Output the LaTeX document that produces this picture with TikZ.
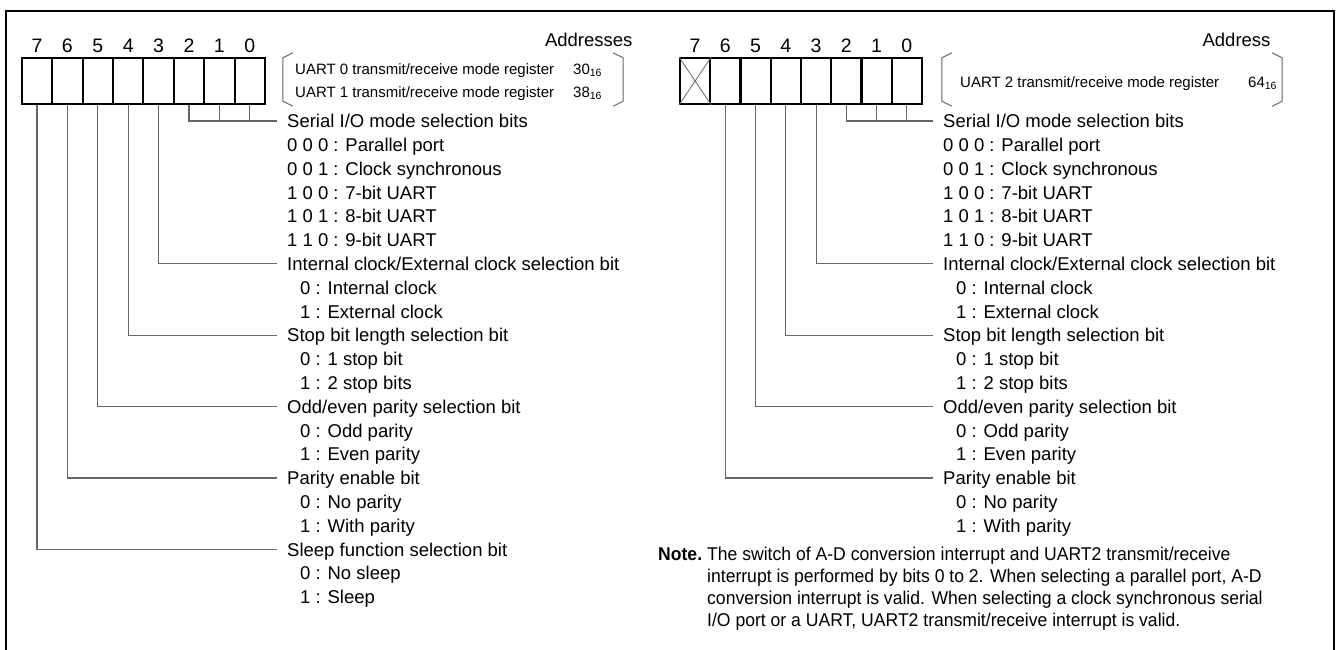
\documentclass[tikz,border=0pt]{standalone}
\usepackage{fontspec}
\setmainfont{Liberation Sans}
\newfontfamily\notefont[FakeStretch=0.95]{Liberation Sans}
\usetikzlibrary{positioning}
\colorlet{leadgray}{black!60}
\tikzset{
  cell/.style={draw, line width=2pt, minimum width=30.3pt, minimum height=46pt, inner sep=0pt},
  bitno/.style={anchor=base, yshift=5pt, inner sep=0pt, font=\fontsize{19.5}{22}\selectfont},
  txt/.style={anchor=west, inner sep=0pt, text height=13.3pt, text depth=0pt},
  lead/.style={draw=leadgray, line width=1.1pt},
  brk/.style={draw=leadgray, line width=1pt},
  adrbox/.style={minimum width=340pt, minimum height=53pt, inner sep=0pt},
  adrtxt/.style={anchor=base west, inner sep=0pt, font=\fontsize{15}{18}\selectfont},
  frame/.style={line width=2.5pt},
}

\begin{document}
\begin{tikzpicture}[x=1pt, y=-1pt, font=\fontsize{18.5}{23}\selectfont]
  \def\ytop{121}  % first text row
  \def\dy{23.8}   % row pitch
  \useasboundingbox (0,0) rectangle (1337,649);

  % frame
  \draw[frame] (6,652) -- (6,11) -- (1334,11) -- (1334,652);

  % registers
  \foreach \b in {0,...,7}{
    \node[cell] (L\b) at ({265-30.4*(\b+0.5)},81) {};
    \node[bitno] (nL\b) at (L\b.north) {\b};
    \node[cell] (R\b) at ({922-30.25*(\b+0.5)},81) {};
    \node[bitno] (nR\b) at (R\b.north) {\b};
  }
  \draw[leadgray, line width=0.8pt] (R7.north west) -- (R7.south east) (R7.south west) -- (R7.north east);

  % addresses
  \node[anchor=base east] (adrhL) at (636,46) {Addresses};
  \node[adrbox] (adrL) at (453,79.5) {};
  \node[adrtxt] (u0) at (295,74.5) {UART 0 transmit/receive mode register};
  \node[adrtxt] (a0) at (573,74.5) {30\textsubscript{16}};
  \node[adrtxt] (u1) at (295,97.5) {UART 1 transmit/receive mode register};
  \node[adrtxt] (a1) at (573,97.5) {38\textsubscript{16}};
  \node[anchor=base east] (adrhR) at (1274,46) {Address};
  \node[adrbox] (adrR) at (1112,79.5) {};
  \node[adrtxt] (u2) at (960,87) {UART 2 transmit/receive mode register};
  \node[adrtxt] (a2) at (1248,87) {64\textsubscript{16}};
  \foreach \a in {adrL,adrR}{
    \draw[brk] ([xshift=10pt]\a.north west) -- ([yshift=-5pt]\a.north west)
      -- ([yshift=5pt]\a.south west) -- ([xshift=10pt]\a.south west);
    \draw[brk] ([xshift=-10pt]\a.north east) -- ([yshift=-5pt]\a.north east)
      -- ([yshift=5pt]\a.south east) -- ([xshift=-10pt]\a.south east);
  }

  % bit descriptions
  \foreach \s/\x in {L/287,R/943}{
    \node[txt] (sio\s) at (\x,\ytop) {Serial I/O mode selection bits};
    \foreach \k/\t in {1/0 0 0 : Parallel port,2/0 0 1 : Clock synchronous,
                       3/1 0 0 : 7-bit UART,4/1 0 1 : 8-bit UART,5/1 1 0 : 9-bit UART}
      \node[txt] (md\s\k) at (\x,{\ytop+\k*\dy}) {\t};
    \node[txt] (clk\s) at (\x,{\ytop+6*\dy}) {Internal clock/External clock selection bit};
    \node[txt] (stp\s) at (\x,{\ytop+9*\dy}) {Stop bit length selection bit};
    \node[txt] (prs\s) at (\x,{\ytop+12*\dy}) {Odd/even parity selection bit};
    \node[txt] (pre\s) at (\x,{\ytop+15*\dy}) {Parity enable bit};
    \foreach \k/\t in {7/0 : Internal clock,8/1 : External clock,10/0 : 1 stop bit,
                       11/1 : 2 stop bits,13/0 : Odd parity,14/1 : Even parity,
                       16/0 : No parity,17/1 : With parity}
      \node[txt] (op\s\k) at ({\x+13},{\ytop+\k*\dy}) {\t};
  }
  \node[txt] (slpL) at (287,{\ytop+18*\dy}) {Sleep function selection bit};
  \node[txt] (opL19) at (300,{\ytop+19*\dy}) {0 : No sleep};
  \node[txt] (opL20) at (300,{\ytop+20*\dy}) {1 : Sleep};

  % leaders
  \foreach \s in {L,R}{
    \foreach \b/\n in {3/clk,4/stp,5/prs,6/pre}
      \draw[lead] (\s\b.south) |- ([xshift=-10pt]\n\s.west);
    \draw[lead] (\s2.south) |- ([xshift=-10pt]sio\s.west);
    \foreach \b in {1,0}
      \draw[lead] (\s\b.south) -- (\s\b.south |- sio\s.west);
  }
  \draw[lead] (L7.south) |- ([xshift=-10pt]slpL.west);

  % note
  \node[anchor=base west, inner sep=0pt, font=\fontsize{18.5}{22}\notefont] (note) at (658,560)
    {\begin{tabular}[t]{@{}l@{}l@{}}
      \makebox[49pt][l]{\textbf{Note.}} & The switch of A-D conversion interrupt and UART2 transmit/receive\\
      & interrupt is performed by bits 0 to 2. When selecting a parallel port, A-D\\
      & conversion interrupt is valid. When selecting a clock synchronous serial\\
      & I/O port or a UART, UART2 transmit/receive interrupt is valid.
    \end{tabular}};
\end{tikzpicture}
\end{document}
